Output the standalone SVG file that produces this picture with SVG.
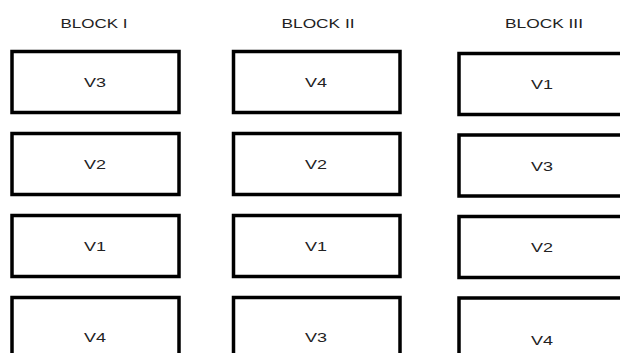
<svg xmlns="http://www.w3.org/2000/svg" width="620" height="353" viewBox="0 0 620 353">
  <style>
    .plot { fill: #ffffff; stroke: #000000; stroke-width: 3.5; }
    .lbl { font-family: "Liberation Sans", Arial, sans-serif; font-size: 12px; fill: #222222; text-anchor: middle; }
  </style>
  <rect width="620" height="353" fill="#ffffff"/>

  <!-- block headings -->
  <g id="headings">
    <text class="lbl" x="94" y="27.5" textLength="67" lengthAdjust="spacingAndGlyphs">BLOCK I</text>
    <text class="lbl" x="318" y="27.5" textLength="73" lengthAdjust="spacingAndGlyphs">BLOCK II</text>
    <text class="lbl" x="544" y="27.5" textLength="78" lengthAdjust="spacingAndGlyphs">BLOCK III</text>
  </g>

  <!-- block I -->
  <g id="b1-r1"><rect class="plot" x="12" y="51.5" width="167" height="61"/><text class="lbl" x="95" y="87" textLength="22" lengthAdjust="spacingAndGlyphs">V3</text></g>
  <g id="b1-r2"><rect class="plot" x="12" y="133.5" width="167" height="61"/><text class="lbl" x="95" y="169" textLength="22" lengthAdjust="spacingAndGlyphs">V2</text></g>
  <g id="b1-r3"><rect class="plot" x="12" y="215.5" width="167" height="61"/><text class="lbl" x="95" y="251" textLength="22" lengthAdjust="spacingAndGlyphs">V1</text></g>
  <g id="b1-r4"><rect class="plot" x="12" y="297.5" width="167" height="70"/><text class="lbl" x="95" y="342" textLength="22" lengthAdjust="spacingAndGlyphs">V4</text></g>

  <!-- block II -->
  <g id="b2-r1"><rect class="plot" x="233.5" y="51.5" width="166.5" height="61"/><text class="lbl" x="316" y="87" textLength="22" lengthAdjust="spacingAndGlyphs">V4</text></g>
  <g id="b2-r2"><rect class="plot" x="233.5" y="133.5" width="166.5" height="61"/><text class="lbl" x="316" y="169" textLength="22" lengthAdjust="spacingAndGlyphs">V2</text></g>
  <g id="b2-r3"><rect class="plot" x="233.5" y="215.5" width="166.5" height="61"/><text class="lbl" x="316" y="251" textLength="22" lengthAdjust="spacingAndGlyphs">V1</text></g>
  <g id="b2-r4"><rect class="plot" x="233.5" y="297.5" width="166.5" height="70"/><text class="lbl" x="316" y="342" textLength="22" lengthAdjust="spacingAndGlyphs">V3</text></g>

  <!-- block III -->
  <g id="b3-r1"><rect class="plot" x="459" y="53.5" width="168" height="61"/><text class="lbl" x="542" y="89" textLength="22" lengthAdjust="spacingAndGlyphs">V1</text></g>
  <g id="b3-r2"><rect class="plot" x="459" y="135" width="168" height="61"/><text class="lbl" x="542" y="171" textLength="22" lengthAdjust="spacingAndGlyphs">V3</text></g>
  <g id="b3-r3"><rect class="plot" x="459" y="216.5" width="168" height="61"/><text class="lbl" x="542" y="252" textLength="22" lengthAdjust="spacingAndGlyphs">V2</text></g>
  <g id="b3-r4"><rect class="plot" x="459" y="298" width="168" height="70"/><text class="lbl" x="542" y="345" textLength="22" lengthAdjust="spacingAndGlyphs">V4</text></g>

  <g id="connectors"/>
</svg>
